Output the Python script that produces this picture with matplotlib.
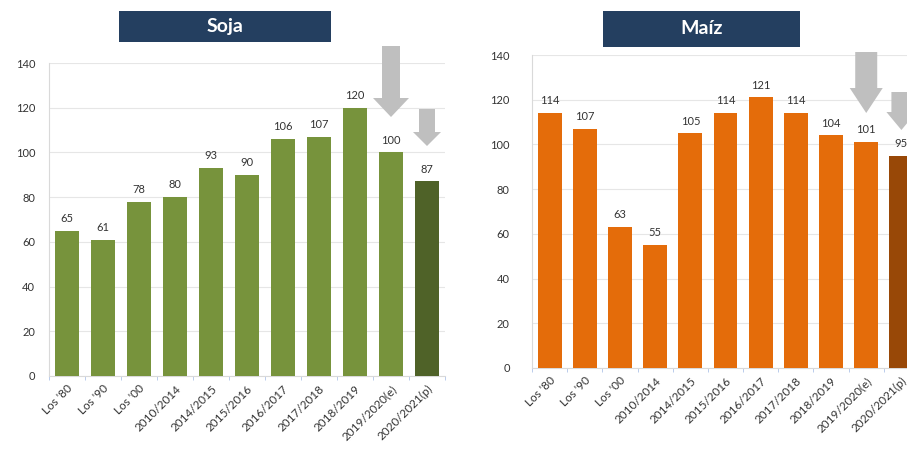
import numpy as np
import matplotlib.pyplot as plt
from matplotlib.patches import Polygon, Rectangle

plt.rcParams['font.family'] = ['Lato', 'DejaVu Sans']

# Data
categorias = ["Los '80", "Los '90", "Los '00", "2010/2014", "2014/2015", "2015/2016",
              "2016/2017", "2017/2018", "2018/2019", "2019/2020(e)", "2020/2021(p)"]
soja = [65, 61, 78, 80, 93, 90, 106, 107, 120, 100, 87]
maiz = [114, 107, 63, 55, 105, 114, 121, 114, 104, 101, 95]

W, H = 907, 451
fig = plt.figure(figsize=(W / 100, H / 100), dpi=100)


def px_axes(x0, y_top, x1, y_bot):
    # pixel box -> figure fraction
    return fig.add_axes([x0 / W, 1 - y_bot / H, (x1 - x0) / W, (y_bot - y_top) / H])


def panel(ax, vals, col, col_last, ypad):
    x = np.arange(len(vals))
    colors = [col] * (len(vals) - 1) + [col_last]
    ax.bar(x, vals, width=0.68, color=colors, zorder=3)
    for i, v in zip(x, vals):
        ax.text(i, v + 3, str(v), ha='center', va='bottom', fontsize=8, color='#333333')
    ax.set_xlim(-0.5, len(vals) - 0.5)
    ax.set_ylim(0, 140)
    ax.set_yticks(range(0, 141, 20))
    ax.grid(axis='y', color='#E6E6E6', lw=0.8, zorder=0)
    ax.set_xticks(x)
    ax.set_xticks(np.arange(-0.5, len(vals)), minor=True)
    ax.set_xticklabels(categorias, rotation=45, ha='right', rotation_mode='anchor', fontsize=8.5, color='#333333')
    ax.tick_params(axis='x', which='major', length=0, pad=5)
    ax.tick_params(axis='x', which='minor', length=3, color='#B0C4E8')
    ax.tick_params(axis='y', length=0, labelsize=8, labelcolor='#333333', pad=ypad)
    for s in ['top', 'right']:
        ax.spines[s].set_visible(False)
    for s in ['left', 'bottom']:
        ax.spines[s].set_color('#D9D9D9')


def arrow(ax, i, top, base, tip, shaft_w, head_w):
    cx = ax.transData.transform((i, 0))[0]
    pts = [(cx - shaft_w / 2, top), (cx + shaft_w / 2, top), (cx + shaft_w / 2, base),
           (cx + head_w / 2, base), (cx, tip), (cx - head_w / 2, base), (cx - shaft_w / 2, base)]
    pts = [(px / W, 1 - py / H) for px, py in pts]
    fig.patches.append(Polygon(pts, closed=True, transform=fig.transFigure,
                               facecolor='#BFBFBF', edgecolor='none', zorder=5))


def title_box(x0, y0, x1, y1, txt):
    fig.patches.append(Rectangle((x0 / W, 1 - y1 / H), (x1 - x0) / W, (y1 - y0) / H,
                                 transform=fig.transFigure, facecolor='#243F60', edgecolor='none'))
    fig.text((x0 + x1) / 2 / W, 1 - (y0 + y1) / 2 / H, txt, ha='center', va='center',
             color='white', fontsize=14, fontweight='bold')


ax1 = px_axes(49, 63, 445, 376)
panel(ax1, soja, '#77933C', '#4F6228', 10)

ax2 = px_axes(532, 55, 919, 368)
panel(ax2, maiz, '#E46C0A', '#984807', 16)

fig.canvas.draw()
arrow(ax1, 9, 46, 98, 117, 18, 36)
arrow(ax1, 10, 109, 132, 146, 16, 28)
arrow(ax2, 9, 52, 88, 113, 22, 33)
arrow(ax2, 10, 92, 112, 130, 20, 30)

title_box(119, 11, 331, 42, 'Soja')
title_box(603, 11, 800, 47, 'Maíz')

fig.savefig('out.png', dpi=100)
